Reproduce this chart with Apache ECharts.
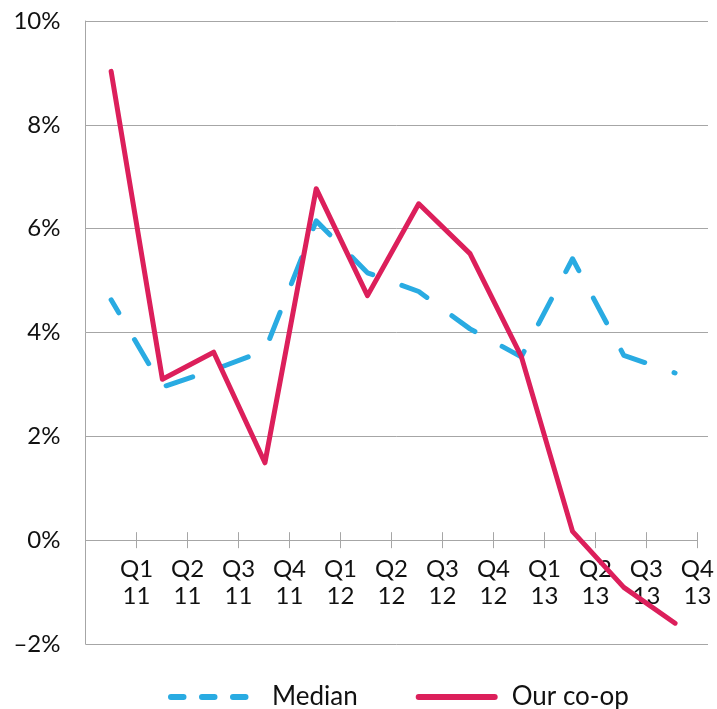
<!DOCTYPE html>
<html><head><meta charset="utf-8">
<script src="https://cdn.jsdelivr.net/npm/echarts@6/dist/echarts.min.js"></script>
<style>html,body{margin:0;padding:0;background:#fff}#chart{width:717px;height:709px}</style>
</head><body><div id="chart"></div>
<script>
// ---- data ----
const quarters = ['Q1\n11','Q2\n11','Q3\n11','Q4\n11','Q1\n12','Q2\n12','Q3\n12','Q4\n12','Q1\n13','Q2\n13','Q3\n13','Q4\n13'];
const medianValues = [4.63, 2.95, 3.28, 3.65, 6.15, 5.15, 4.79, 4.07, 3.53, 5.42, 3.56, 3.22];
const coopValues = [9.03, 3.10, 3.62, 1.49, 6.77, 4.71, 6.48, 5.52, 3.54, 0.17, -0.91, -1.60];
const yTickValues = [-2, 0, 2, 4, 6, 8, 10];
const seriesNames = ['Median', 'Our co-op'];

// ---- style ----
const FONT = 'Lato';
const GRAY = '#A6A6A6';
const BLUE = '#29ABE2';
const RED = '#DC1F5B';
const TEXT = '#111111';
const yMin = yTickValues[0], yMax = yTickValues[yTickValues.length - 1], yStep = yTickValues[1] - yTickValues[0];
const boundaryLabels = [''].concat(quarters);

// plot geometry
const TOP = 21, BOTTOM = 65, LEFT = 85.5;
const plotH = 709 - TOP - BOTTOM;
const zeroBottom = BOTTOM + plotH * (0 - yMin) / (yMax - yMin);

const hiddenY = (min) => ({
  type: 'value', min: min, max: yMax, interval: yStep,
  axisLine: {show: false}, axisTick: {show: false}, axisLabel: {show: false}, splitLine: {show: false}
});

const chart = echarts.init(document.getElementById('chart'), null, {renderer: 'canvas'});
const option = {
  animation: false,
  backgroundColor: '#fff',
  grid: [
    {left: LEFT, right: 9, top: TOP, bottom: BOTTOM},
    {left: LEFT, right: 16.3, top: TOP, bottom: BOTTOM},
    {left: LEFT, right: 16.3, top: TOP, bottom: zeroBottom}
  ],
  yAxis: [
    {
      gridIndex: 0, type: 'value', min: yMin, max: yMax, interval: yStep,
      axisLine: {show: true, lineStyle: {color: GRAY, width: 1}},
      axisTick: {show: false},
      axisLabel: {
        formatter: v => (v < 0 ? '\u2013' + Math.abs(v) : v) + '%',
        fontSize: 24, color: TEXT, margin: 25, fontFamily: FONT
      },
      splitLine: {lineStyle: {color: yTickValues.map(v => v === 0 ? 'rgba(0,0,0,0)' : GRAY), width: 1}}
    },
    Object.assign({gridIndex: 1}, hiddenY(yMin)),
    Object.assign({gridIndex: 2}, hiddenY(0))
  ],
  xAxis: [
    {gridIndex: 0, type: 'category', data: quarters, show: false, axisLine: {onZero: false}},
    {gridIndex: 1, type: 'category', data: quarters, boundaryGap: true,
      axisLine: {show: false, onZero: false}, axisTick: {show: false}, axisLabel: {show: false}},
    {
      gridIndex: 2, type: 'category', data: boundaryLabels, boundaryGap: false, position: 'bottom',
      axisLine: {show: true, onZero: false, lineStyle: {color: GRAY, width: 1}},
      axisTick: {show: true, length: 8, interval: 0, lineStyle: {color: GRAY}},
      axisLabel: {interval: 0, fontSize: 24, lineHeight: 27, color: TEXT, margin: 16, fontFamily: FONT}
    },
    {
      gridIndex: 2, type: 'category', data: boundaryLabels, boundaryGap: false, position: 'bottom',
      axisLine: {show: false, onZero: false},
      axisTick: {show: true, inside: true, length: 8, interval: 0, lineStyle: {color: GRAY}},
      axisLabel: {show: false}
    }
  ],
  legend: [
    {
      data: [{name: seriesNames[0], lineStyle: {type: [12.5, 18.5], dashOffset: 0, width: 6, cap: 'round'}, itemStyle: {opacity: 0}}],
      left: 163, top: 679, itemWidth: 76, itemHeight: 14, selectedMode: false,
      textStyle: {fontSize: 26, color: TEXT, fontFamily: FONT, padding: [0, 0, 0, 20]}
    },
    {
      data: [{name: seriesNames[1], lineStyle: {width: 6, cap: 'round'}, itemStyle: {opacity: 0}}],
      left: 410.7, top: 679, itemWidth: 76, itemHeight: 14, selectedMode: false,
      textStyle: {fontSize: 26, color: TEXT, fontFamily: FONT, padding: [0, 0, 0, 12]}
    }
  ],
  series: [
    {
      name: seriesNames[0], type: 'line', xAxisIndex: 1, yAxisIndex: 1, data: medianValues,
      symbol: 'none', color: BLUE,
      lineStyle: {color: BLUE, width: 5, type: [28, 31], dashOffset: 12.9, cap: 'round', join: 'round'}
    },
    {
      name: seriesNames[1], type: 'line', xAxisIndex: 1, yAxisIndex: 1, data: coopValues,
      symbol: 'none', color: RED,
      lineStyle: {color: RED, width: 5, cap: 'round', join: 'round'}
    }
  ]
};
chart.setOption(option);
</script>
</body></html>
